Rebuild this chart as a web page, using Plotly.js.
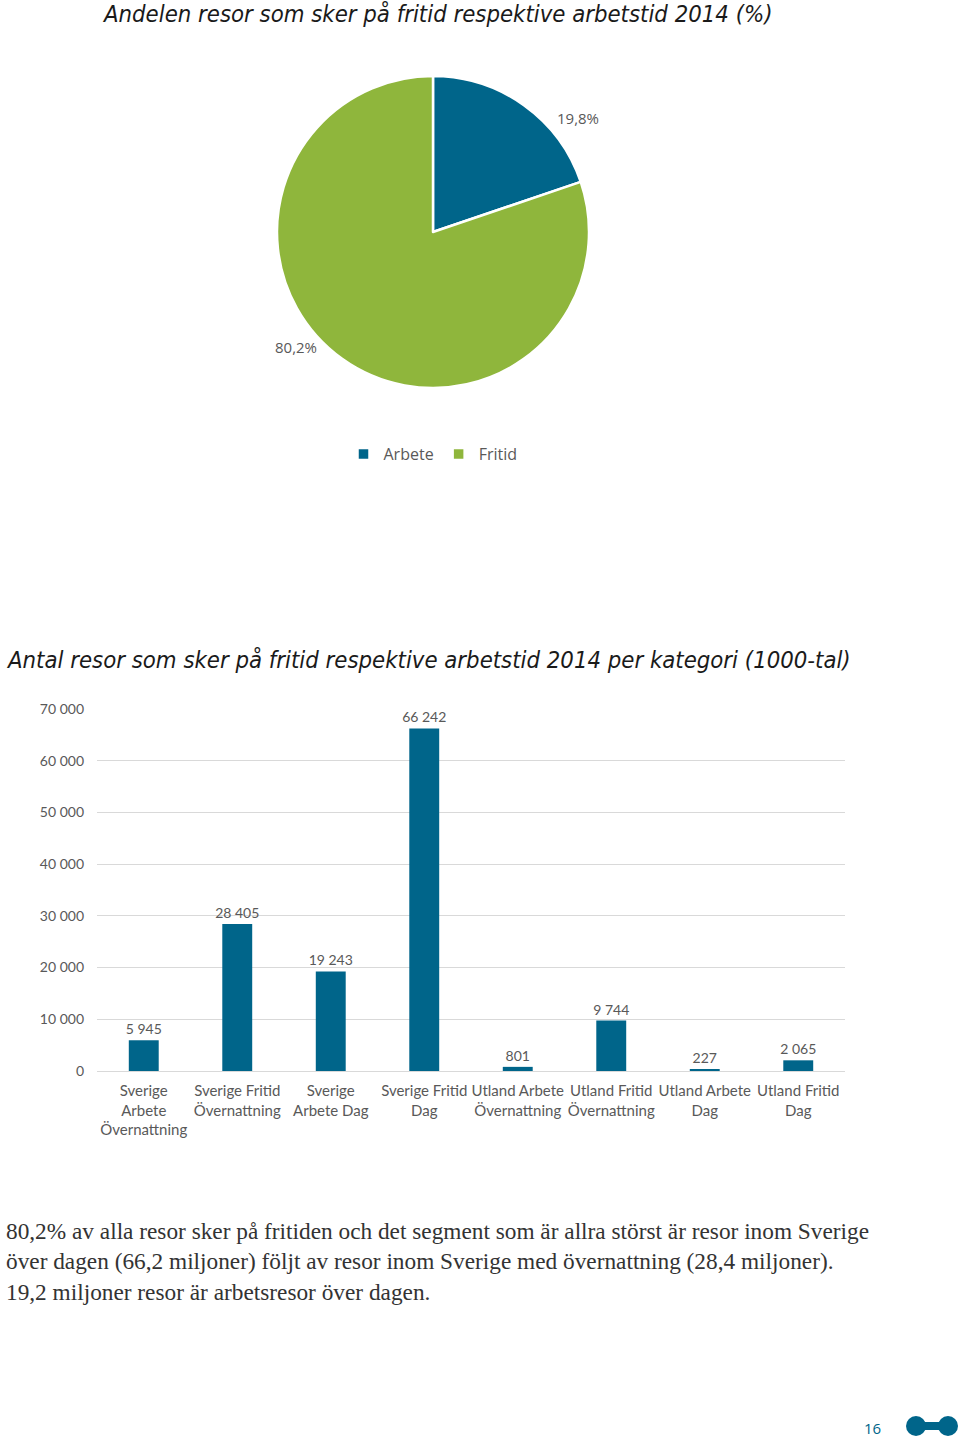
<!DOCTYPE html>
<html>
<head>
<meta charset="utf-8">
<script src="https://cdn.plot.ly/plotly-3.0.1.min.js"></script>
<style>
  body { margin: 0; background: #fff; }
  #chart { width: 960px; height: 1443px; }
</style>
</head>
<body>
<div id="chart"></div>
<script>
// pie: share of trips (%)
var pieLabels = ['Arbete', 'Fritid'];
var pieValues = [19.8, 80.2];

// bars: trips per category (1000s)
var barCats = [
  'Sverige<br>Arbete<br>Övernattning',
  'Sverige Fritid<br>Övernattning',
  'Sverige<br>Arbete Dag',
  'Sverige Fritid<br>Dag',
  'Utland Arbete<br>Övernattning',
  'Utland Fritid<br>Övernattning',
  'Utland Arbete<br>Dag',
  'Utland Fritid<br>Dag'
];
var barValues = [5945, 28405, 19243, 66242, 801, 9744, 227, 2065];
var yTicks = [0, 10000, 20000, 30000, 40000, 50000, 60000, 70000];

var W = 960, H = 1443;
function px(x) { return x / W; }
function py(y) { return 1 - y / H; }

var blue = '#00658a';
var green = '#8fb63c';
var gray = '#595959';
var titleFont = 'DejaVu Sans Condensed, Lato, sans-serif';
var sans = 'Lato, Open Sans, sans-serif';

function pct(v) { return v.toFixed(1).replace('.', ',') + '%'; }

var data = [
  {
    type: 'pie',
    labels: pieLabels,
    values: pieValues,
    sort: false,
    direction: 'clockwise',
    rotation: 0,
    textinfo: 'none',
    hoverinfo: 'label+percent',
    marker: {colors: [blue, green], line: {color: '#fff', width: 2.5}},
    domain: {x: [px(277), px(589)], y: [py(388), py(76)]},
    showlegend: true
  },
  {
    type: 'bar',
    x: barCats,
    y: barValues,
    marker: {color: blue},
    texttemplate: '%{y:,.0f}',
    textposition: 'outside',
    constraintext: 'none',
    textfont: {family: sans, size: 14, color: gray},
    cliponaxis: false,
    showlegend: false,
    xaxis: 'x',
    yaxis: 'y'
  }
];

var layout = {
  width: W,
  height: H,
  margin: {l: 0, r: 0, t: 0, b: 0},
  paper_bgcolor: '#fff',
  plot_bgcolor: '#fff',
  separators: ', ',
  font: {family: sans, color: gray},
  bargap: 0.68,
  legend: {
    orientation: 'h',
    x: px(433), xanchor: 'center',
    y: py(454), yanchor: 'middle',
    font: {family: 'Open Sans, sans-serif', size: 16, color: gray},
    itemwidth: 30
  },
  xaxis: {
    domain: [px(97), px(845)],
    anchor: 'y',
    showgrid: false,
    showline: false,
    ticks: '',
    ticklabelstandoff: 9,
    tickfont: {family: sans, size: 15, color: gray},
    tickangle: 0
  },
  yaxis: {
    domain: [py(1071), py(709)],
    anchor: 'x',
    range: [0, 70000],
    tickvals: yTicks,
    tickformat: ',d',
    showgrid: true,
    gridcolor: '#d9d9d9',
    zeroline: true,
    zerolinecolor: '#d9d9d9',
    ticks: '',
    ticklabelstandoff: 12,
    tickfont: {family: sans, size: 14, color: gray}
  },
  annotations: [
    {
      text: 'Andelen resor som sker på fritid respektive arbetstid 2014 (%)',
      x: px(100), y: py(14), xref: 'paper', yref: 'paper',
      xanchor: 'left', yanchor: 'middle', showarrow: false,
      font: {family: titleFont, size: 23.7, color: '#1a1a1a', style: 'italic'}
    },
    {
      text: pct(pieValues[0]),
      x: px(578), y: py(118), xref: 'paper', yref: 'paper',
      xanchor: 'center', yanchor: 'middle', showarrow: false,
      font: {family: 'Open Sans, sans-serif', size: 15, color: gray}
    },
    {
      text: pct(pieValues[1]),
      x: px(296), y: py(347), xref: 'paper', yref: 'paper',
      xanchor: 'center', yanchor: 'middle', showarrow: false,
      font: {family: 'Open Sans, sans-serif', size: 15, color: gray}
    },
    {
      text: 'Antal resor som sker på fritid respektive arbetstid 2014 per kategori (1000-tal)',
      x: px(4), y: py(660), xref: 'paper', yref: 'paper',
      xanchor: 'left', yanchor: 'middle', showarrow: false,
      font: {family: titleFont, size: 23.7, color: '#1a1a1a', style: 'italic'}
    },
    {
      text: '80,2% av alla resor sker på fritiden och det segment som är allra störst är resor inom Sverige<br>' +
            'över dagen (66,2 miljoner) följt av resor inom Sverige med övernattning (28,4 miljoner).<br>' +
            '19,2 miljoner resor är arbetsresor över dagen.',
      x: px(4), y: py(1216), xref: 'paper', yref: 'paper',
      xanchor: 'left', yanchor: 'top', align: 'left', showarrow: false,
      font: {family: 'Liberation Serif, serif', size: 23.3, color: '#333'}
    },
    {
      text: '16',
      x: px(872), y: py(1428), xref: 'paper', yref: 'paper',
      xanchor: 'center', yanchor: 'middle', showarrow: false,
      font: {family: 'Open Sans, sans-serif', size: 15, color: blue}
    }
  ],
  shapes: [
    {type: 'rect', xref: 'paper', yref: 'paper', x0: px(916), x1: px(948), y0: py(1430), y1: py(1422),
     fillcolor: blue, line: {width: 0}},
    {type: 'circle', xref: 'paper', yref: 'paper', x0: px(906), x1: px(926), y0: py(1436), y1: py(1416),
     fillcolor: blue, line: {width: 0}},
    {type: 'circle', xref: 'paper', yref: 'paper', x0: px(938), x1: px(958), y0: py(1436), y1: py(1416),
     fillcolor: blue, line: {width: 0}}
  ]
};

Plotly.newPlot('chart', data, layout, {displayModeBar: false, responsive: false});
</script>
</body>
</html>
